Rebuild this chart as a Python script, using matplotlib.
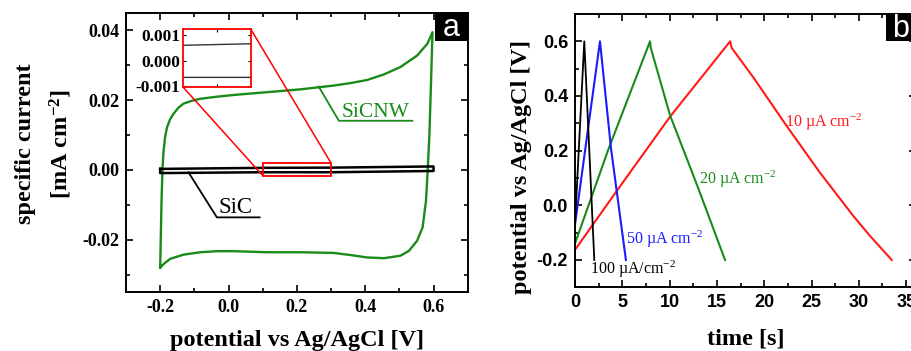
import matplotlib
matplotlib.use("Agg")
import matplotlib.pyplot as plt
from matplotlib.ticker import MultipleLocator, FormatStrFormatter, FixedLocator
from matplotlib.patches import Rectangle, ConnectionPatch

plt.rcParams['axes.unicode_minus'] = False
plt.rcParams['mathtext.fontset'] = 'custom'
plt.rcParams['mathtext.rm'] = 'Liberation Serif'
plt.rcParams['mathtext.it'] = 'Liberation Serif:italic'
plt.rcParams['mathtext.bf'] = 'Liberation Serif:bold'

SERIF = 'Liberation Serif'
SANS = 'Liberation Sans'

# ---------------- data: panel a (cyclic voltammetry) ----------------
sicnw_fwd_v = [-0.2, -0.198, -0.196, -0.193, -0.19, -0.186, -0.18, -0.171, -0.161, -0.147, -0.132,
               -0.108, -0.083, -0.034, 0.015, 0.113, 0.21, 0.308, 0.357, 0.406, 0.455, 0.503,
               0.552, 0.582, 0.597]
sicnw_fwd_i = [-0.028, -0.0184, -0.0088, 0.0008, 0.0055, 0.0092, 0.0122, 0.0145, 0.0161, 0.0178,
               0.019, 0.0198, 0.0204, 0.021, 0.0215, 0.0223, 0.0231, 0.0242, 0.0249, 0.0258,
               0.0274, 0.0295, 0.0328, 0.0362, 0.0395]
sicnw_rev_v = [0.597, 0.594, 0.588, 0.583, 0.578, 0.568, 0.552, 0.528, 0.503, 0.455, 0.406,
               0.357, 0.308, 0.21, 0.113, 0.015, -0.034, -0.083, -0.132, -0.171, -0.19, -0.2]
sicnw_rev_i = [0.0395, 0.0295, 0.0103, 0.0, -0.0088, -0.0165, -0.0203, -0.0232, -0.0246, -0.0253,
               -0.0251, -0.0244, -0.0238, -0.0236, -0.0236, -0.0233, -0.0233, -0.0236, -0.0243,
               -0.0255, -0.027, -0.028]
sic_v = [-0.2, 0.1, 0.3, 0.6, 0.6, 0.3, 0.1, -0.2, -0.2]
sic_i = [0.0003, 0.0006, 0.00066, 0.0010, -0.0003, -0.00066, -0.00066, -0.0009, 0.0003]

# ---------------- data: panel b (charge / discharge) ----------------
t_10 = [0, 4.4, 10.04, 16.4, 16.56, 18.85, 22.38, 25.9, 29.42, 31.18, 33.48]
v_10 = [-0.163, 0.052, 0.324, 0.6, 0.576, 0.468, 0.29, 0.119, -0.039, -0.112, -0.2]
t_20 = [0, 3.52, 7.93, 8.0, 10.04, 13.0, 15.86]
v_20 = [-0.14, 0.204, 0.6, 0.577, 0.33, 0.065, -0.2]
t_50 = [0, 2.64, 3.8, 5.38]
v_50 = [-0.07, 0.6, 0.21, -0.2]
t_100 = [0, 0.98, 2.04]
v_100 = [-0.07, 0.6, -0.2]

labels_b = ['10 µA cm$^{-2}$', '20 µA cm$^{-2}$', '50 µA cm$^{-2}$', '100 µA/cm$^{-2}$']

fig = plt.figure(figsize=(9.12, 3.51), dpi=100)

def style_axes(ax, lw=1.4):
    for s in ax.spines.values():
        s.set_linewidth(lw)
    ax.tick_params(which='both', direction='in', top=True, right=True, width=1.2)
    ax.tick_params(which='major', length=5)
    ax.tick_params(which='minor', length=3)

TICK_FS = 13
LABEL_FS = 17.5

# ---------------- panel a ----------------
axa = fig.add_axes([126/912, 1-292/351, (467.7-126)/912, (292-13)/351])
axa.plot(sicnw_fwd_v + sicnw_rev_v, sicnw_fwd_i + sicnw_rev_i, color='#1a8a1a', lw=1.7,
         solid_joinstyle='round')
axa.plot(sic_v, sic_i, color='black', lw=1.8, solid_joinstyle='round')
axa.set_xlim(-0.3, 0.7)
axa.set_ylim(-0.035, 0.045)
axa.xaxis.set_major_locator(MultipleLocator(0.2))
axa.xaxis.set_minor_locator(MultipleLocator(0.1))
axa.yaxis.set_major_locator(MultipleLocator(0.02))
axa.yaxis.set_minor_locator(MultipleLocator(0.01))
axa.xaxis.set_major_formatter(FormatStrFormatter('%.1f'))
axa.yaxis.set_major_formatter(FormatStrFormatter('%.2f'))
style_axes(axa)
for lab in axa.get_xticklabels() + axa.get_yticklabels():
    lab.set_fontfamily(SERIF)
    lab.set_fontweight('bold')
    lab.set_fontsize(TICK_FS)
axa.tick_params(axis='x', pad=5)
axa.tick_params(axis='y', pad=5)
axa.set_xlabel('potential vs Ag/AgCl [V]', fontfamily=SERIF, fontweight='bold', fontsize=LABEL_FS)
axa.xaxis.set_label_coords(0.5, -0.136)
axa.set_ylabel('specific current\n[mA cm$^{\\mathbf{-2}}$]', fontfamily=SERIF, fontweight='bold',
               fontsize=LABEL_FS, linespacing=1.6)
axa.yaxis.set_label_coords(-0.152, 0.53)

# annotations
axa.text(0.33, 0.0164, 'SiCNW', color='#1a8a1a', fontfamily=SERIF, fontsize=15.5, va='center', ha='left')
axa.plot([0.264, 0.323, 0.538], [0.0239, 0.0141, 0.0141], color='#1a8a1a', lw=1.3)
axa.text(-0.03, -0.0108, 'SiC', color='black', fontfamily=SERIF, fontsize=16.5, va='center', ha='left')
axa.plot([-0.117, -0.034, 0.091], [-0.0007, -0.0136, -0.0136], color='black', lw=1.3)

# zoom rectangle
axa.add_patch(Rectangle((0.1, -0.0016), 0.2, 0.0036, fill=False, edgecolor='red', lw=1.3, zorder=5))

# panel letter
axa.add_patch(Rectangle((0.904, 0.8996), 0.096, 0.1004, transform=axa.transAxes,
                        facecolor='black', edgecolor='none', zorder=6, clip_on=False))
axa.text(0.952, 0.947, 'a', transform=axa.transAxes, color='white', fontfamily=SANS,
         fontsize=22, ha='center', va='center', zorder=7)

# inset
axi = fig.add_axes([183.3/912, 1-87.3/351, 67.4/912, 58.3/351])
axi.plot(sic_v, sic_i, color='#333333', lw=1.0)
axi.set_xlim(0.1, 0.3)
axi.set_ylim(-0.00105, 0.00124)
axi.xaxis.set_major_locator(FixedLocator([0.2]))
axi.yaxis.set_major_locator(FixedLocator([-0.001, 0.0, 0.001]))
axi.set_xticklabels([])
axi.yaxis.set_major_formatter(FormatStrFormatter('%.3f'))
for s in axi.spines.values():
    s.set_edgecolor('red')
    s.set_linewidth(1.3)
axi.tick_params(which='both', direction='in', top=True, right=True, length=2.5, width=0.8, pad=2)
for lab in axi.get_yticklabels():
    lab.set_fontfamily(SERIF)
    lab.set_fontweight('bold')
    lab.set_fontsize(12.5)

for xyA, xyB in [((0, 0), (0.1, -0.0016)), ((1, 1), (0.3, 0.002))]:
    cp = ConnectionPatch(xyA=xyA, coordsA=axi.transAxes, xyB=xyB, coordsB=axa.transData,
                         color='red', lw=1.1)
    fig.add_artist(cp)

# ---------------- panel b ----------------
axb = fig.add_axes([575/912, 1-287.3/351, 340.6/912, (287.3-14)/351])
axb.plot(t_10, v_10, color='#ff1a1a', lw=1.5)
axb.plot(t_20, v_20, color='#1a8a1a', lw=1.5)
axb.plot(t_50, v_50, color='#1a1aff', lw=1.5)
axb.plot(t_100, v_100, color='black', lw=1.3)
axb.set_xlim(0, 36)
axb.set_ylim(-0.3, 0.7)
axb.xaxis.set_major_locator(MultipleLocator(5))
axb.xaxis.set_minor_locator(MultipleLocator(2.5))
axb.yaxis.set_major_locator(MultipleLocator(0.2))
axb.yaxis.set_minor_locator(MultipleLocator(0.1))
axb.xaxis.set_major_formatter(FormatStrFormatter('%d'))
axb.yaxis.set_major_formatter(FormatStrFormatter('%.1f'))
style_axes(axb)
for lab in axb.get_xticklabels() + axb.get_yticklabels():
    lab.set_fontfamily(SANS)
    lab.set_fontweight('bold')
    lab.set_fontsize(TICK_FS)
axb.tick_params(axis='x', pad=5)
axb.tick_params(axis='y', pad=5)
axb.set_xlabel('time [s]', fontfamily=SERIF, fontweight='bold', fontsize=LABEL_FS)
axb.xaxis.set_label_coords(0.5, -0.149)
axb.set_ylabel('potential vs Ag/AgCl [V]', fontfamily=SERIF, fontweight='bold', fontsize=LABEL_FS)
axb.yaxis.set_label_coords(-0.126, 0.442)

axb.text(22.2, 0.303, labels_b[0], color='#ff1a1a', fontfamily=SERIF, fontsize=11.5, va='center', ha='left')
axb.text(13.14, 0.095, labels_b[1], color='#1a8a1a', fontfamily=SERIF, fontsize=11.5, va='center', ha='left')
axb.text(5.36, -0.124, labels_b[2], color='#1a1aff', fontfamily=SERIF, fontsize=11.5, va='center', ha='left')
axb.text(1.59, -0.234, labels_b[3], color='black', fontfamily=SERIF, fontsize=11.5, va='center', ha='left')

axb.add_patch(Rectangle((0.913, 0.901), 0.087, 0.099, transform=axb.transAxes,
                        facecolor='black', edgecolor='none', zorder=6, clip_on=False))
axb.text(0.9565, 0.946, 'b', transform=axb.transAxes, color='white', fontfamily=SANS,
         fontsize=22, ha='center', va='center', zorder=7)

fig.savefig('out.png', dpi=100)
